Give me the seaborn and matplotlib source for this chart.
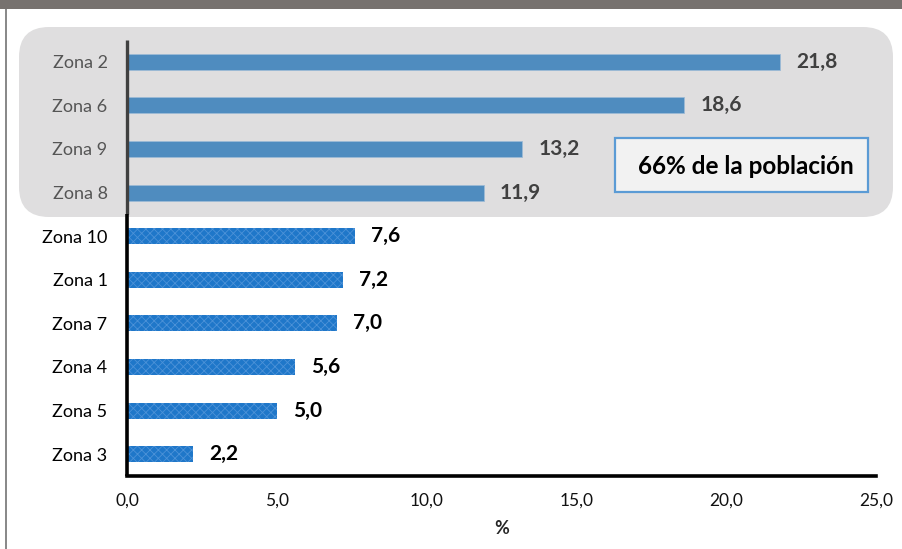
import matplotlib
matplotlib.use("Agg")
import matplotlib.pyplot as plt
import seaborn as sns
import pandas as pd
from matplotlib.patches import FancyBboxPatch, Rectangle
from matplotlib.transforms import IdentityTransform

zones = ["Zona 2", "Zona 6", "Zona 9", "Zona 8", "Zona 10",
         "Zona 1", "Zona 7", "Zona 4", "Zona 5", "Zona 3"]
values = [21.8, 18.6, 13.2, 11.9, 7.6, 7.2, 7.0, 5.6, 5.0, 2.2]
value_labels = ["21,8", "18,6", "13,2", "11,9", "7,6", "7,2", "7,0", "5,6", "5,0", "2,2"]
x_ticks = [0, 5, 10, 15, 20, 25]
x_ticklabels = ["0,0", "5,0", "10,0", "15,0", "20,0", "25,0"]
n_highlight = 4
box_text = "66% de la población"

sns.set_theme(style="white")
plt.rcParams['font.family'] = ['Lato', 'DejaVu Sans']
plt.rcParams['hatch.linewidth'] = 0.6

W, H = 903, 549
fig = plt.figure(figsize=(W / 100, H / 100), dpi=100)
fig.patch.set_facecolor("white")

# background decorations (pixel coords)
fig.patches.append(Rectangle((0, H - 9), W, 9, transform=IdentityTransform(),
                             facecolor="#77726f", edgecolor="none", zorder=-2))
fig.patches.append(Rectangle((5, 0), 2, H - 9, transform=IdentityTransform(),
                             facecolor="#8a8a8a", edgecolor="none", zorder=-2))
fig.patches.append(FancyBboxPatch((19, H - 217), 874, 190,
                                  boxstyle="round,pad=0,rounding_size=30",
                                  transform=IdentityTransform(),
                                  facecolor="#dfdedf", edgecolor="none", zorder=-1))

ax = fig.add_axes([127 / W, (H - 476) / H, (876 - 127) / W, (476 - 40) / H])
ax.patch.set_alpha(0)
ax.set_zorder(1)

df = pd.DataFrame({"zona": zones, "valor": values})
sns.barplot(data=df, y="zona", x="valor", orient="h", width=0.37,
            color="#4f8bbf", ax=ax, zorder=3)

for i, p in enumerate(ax.patches):
    if i < n_highlight:
        p.set_facecolor("#4f8cbf")
        p.set_edgecolor("#9dbbd6")
        p.set_linewidth(0.6)
    else:
        p.set_facecolor("#1f77c9")
        p.set_edgecolor("#4c92d8")
        p.set_hatch("xxxx")
        p.set_linewidth(0)

ax.set_xlim(0, 25)
ax.set_ylim(len(zones) - 0.5, -0.5)
ax.set_xticks(x_ticks)
ax.set_xticklabels(x_ticklabels, fontsize=12.5, color="#111111")
ax.set_xlabel("%", fontsize=13, fontweight="bold", labelpad=8)
ax.set_ylabel("")
ax.tick_params(axis="x", direction="in", length=6, width=2, color="black", pad=12)
ax.tick_params(axis="y", length=0, pad=14)
for i, lab in enumerate(ax.get_yticklabels()):
    lab.set_fontsize(13)
    lab.set_color("#555555" if i < n_highlight else "black")

for s in ["top", "right", "left"]:
    ax.spines[s].set_visible(False)
ax.spines["bottom"].set_linewidth(2.6)
ax.spines["bottom"].set_color("black")

# y axis line: dark gray over highlighted part, black below
ax.plot([0, 0], [-0.5, n_highlight - 0.5], color="#404040", lw=2.4,
        solid_capstyle="butt", clip_on=False, zorder=5)
ax.plot([0, 0], [n_highlight - 0.5, len(zones) - 0.5], color="black", lw=2.6,
        solid_capstyle="butt", clip_on=False, zorder=5)

for i, (v, t) in enumerate(zip(values, value_labels)):
    ax.annotate(t, xy=(v, i), xytext=(11.5, 0), textcoords="offset points",
                ha="left", va="center", fontsize=15, fontweight="bold",
                color="#404040" if i < n_highlight else "black")

# highlight box
fig.patches.append(Rectangle((615, H - 192), 253, 54, transform=IdentityTransform(),
                             facecolor="#f2f2f2", edgecolor="#5b9bd5", lw=1.6, zorder=4))
fig.text((615 + 253 / 2 + 4) / W, (H - 166) / H, box_text, ha="center", va="center",
         fontsize=17.5, fontweight="bold", color="black", zorder=6)

fig.savefig("out.png", dpi=100)
